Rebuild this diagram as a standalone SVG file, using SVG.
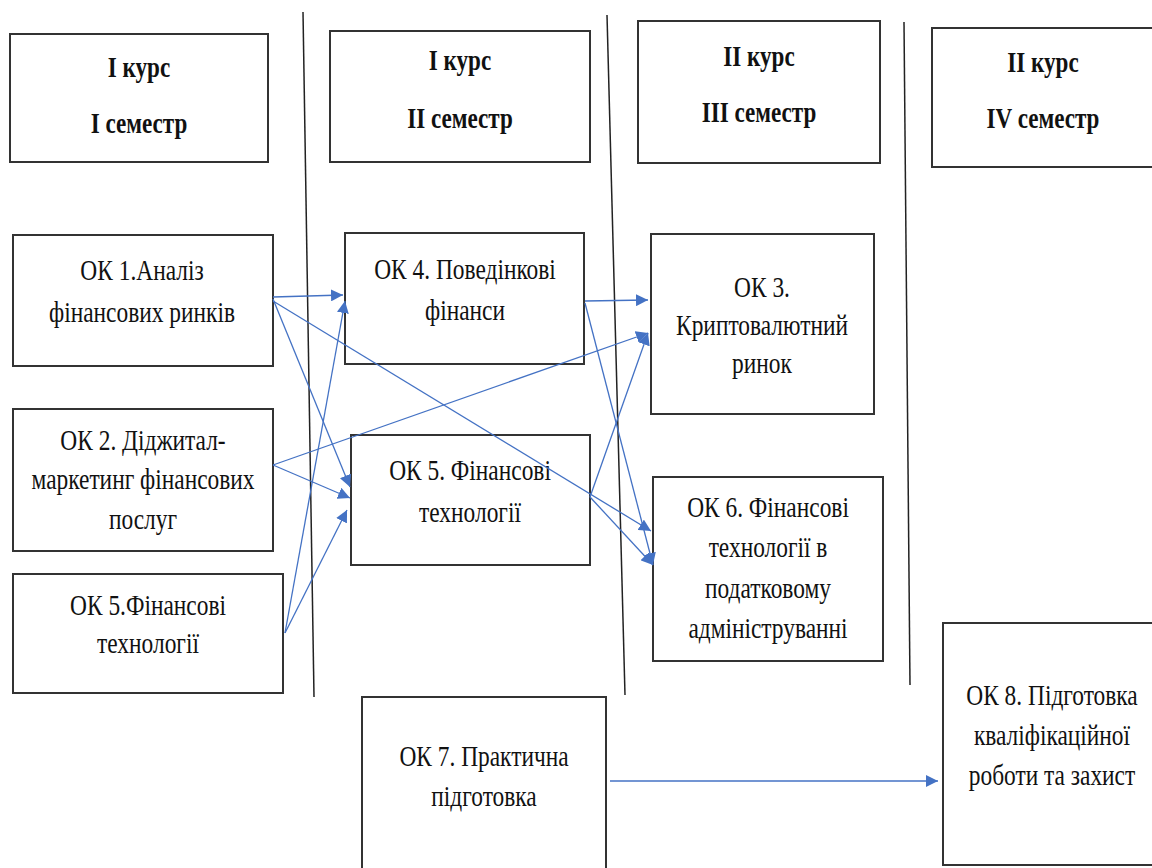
<svg xmlns="http://www.w3.org/2000/svg" width="1152" height="868" viewBox="0 0 1152 868">
<style>
.box{fill:#fff;stroke:#333;stroke-width:2}
.sep{stroke:#222;stroke-width:1.5;fill:none}
.t{font-family:"Liberation Serif","Times New Roman",serif;font-size:30px;fill:#111;text-anchor:middle}
.b{font-weight:bold}
.c{stroke:#4472C4;stroke-width:1.3;fill:none;marker-end:url(#ah)}
</style>
<defs>
<marker id="ah" markerUnits="userSpaceOnUse" markerWidth="14" markerHeight="12" refX="12" refY="6" orient="auto">
<path d="M0,0 L12,6 L0,12 z" fill="#4472C4"/>
</marker>
</defs>
<rect width="1152" height="868" fill="#fff"/>
<g id="separators">
<line class="sep" x1="303" y1="12" x2="314" y2="697"/>
<line class="sep" x1="607" y1="15" x2="625" y2="695"/>
<line class="sep" x1="904" y1="22" x2="910" y2="685"/>
</g>
<g id="h1"><rect class="box" x="10" y="34" width="258" height="128"/>
<text class="t b" transform="matrix(0.77,0,0,1,139,0)"><tspan x="0" y="77">I курс</tspan><tspan x="0" y="133">I семестр</tspan></text></g>
<g id="h2"><rect class="box" x="330" y="31" width="260" height="131"/>
<text class="t b" transform="matrix(0.77,0,0,1,460,0)"><tspan x="0" y="70">I курс</tspan><tspan x="0" y="128">II семестр</tspan></text></g>
<g id="h3"><rect class="box" x="638" y="21" width="242" height="142"/>
<text class="t b" transform="matrix(0.77,0,0,1,759,0)"><tspan x="0" y="66">II курс</tspan><tspan x="0" y="122">III семестр</tspan></text></g>
<g id="h4"><rect class="box" x="932" y="28" width="230" height="139"/>
<text class="t b" transform="matrix(0.77,0,0,1,1043,0)"><tspan x="0" y="72">II курс</tspan><tspan x="0" y="128">IV семестр</tspan></text></g>
<g id="ok1"><rect class="box" x="13" y="235" width="260" height="131"/>
<text class="t" transform="matrix(0.78,0,0,1,142,0)"><tspan x="0" y="280">ОК 1.Аналіз</tspan><tspan x="0" y="322">фінансових ринків</tspan></text></g>
<g id="ok2"><rect class="box" x="13" y="409" width="260" height="142"/>
<text class="t" transform="matrix(0.78,0,0,1,143,0)"><tspan x="0" y="450">ОК 2. Діджитал-</tspan><tspan x="0" y="489">маркетинг фінансових</tspan><tspan x="0" y="529">послуг</tspan></text></g>
<g id="ok5a"><rect class="box" x="13" y="574" width="270" height="119"/>
<text class="t" transform="matrix(0.78,0,0,1,148,0)"><tspan x="0" y="615">ОК 5.Фінансові</tspan><tspan x="0" y="653">технології</tspan></text></g>
<g id="ok4"><rect class="box" x="345" y="233" width="239" height="131"/>
<text class="t" transform="matrix(0.78,0,0,1,465,0)"><tspan x="0" y="279">ОК 4. Поведінкові</tspan><tspan x="0" y="320">фінанси</tspan></text></g>
<g id="ok5b"><rect class="box" x="351" y="435" width="239" height="130"/>
<text class="t" transform="matrix(0.78,0,0,1,470,0)"><tspan x="0" y="480">ОК 5. Фінансові</tspan><tspan x="0" y="522">технології</tspan></text></g>
<g id="ok3"><rect class="box" x="651" y="234" width="223" height="180"/>
<text class="t" transform="matrix(0.78,0,0,1,762,0)"><tspan x="0" y="297">ОК 3.</tspan><tspan x="0" y="335">Криптовалютний</tspan><tspan x="0" y="373">ринок</tspan></text></g>
<g id="ok6"><rect class="box" x="653" y="477" width="230" height="184"/>
<text class="t" transform="matrix(0.78,0,0,1,768,0)"><tspan x="0" y="517">ОК 6. Фінансові</tspan><tspan x="0" y="557">технології в</tspan><tspan x="0" y="598">податковому</tspan><tspan x="0" y="638">адмініструванні</tspan></text></g>
<g id="ok7"><rect class="box" x="362" y="697" width="244" height="180"/>
<text class="t" transform="matrix(0.78,0,0,1,484,0)"><tspan x="0" y="766">ОК 7. Практична</tspan><tspan x="0" y="806">підготовка</tspan></text></g>
<g id="ok8"><rect class="box" x="943" y="623" width="220" height="242"/>
<text class="t" transform="matrix(0.78,0,0,1,1052,0)"><tspan x="0" y="705">ОК 8. Підготовка</tspan><tspan x="0" y="745">кваліфікаційної</tspan><tspan x="0" y="785">роботи та захист</tspan></text></g>
<g id="connectors">
<line class="c" x1="273" y1="297" x2="343" y2="295"/>
<line class="c" x1="273" y1="299" x2="350" y2="487"/>
<line class="c" x1="273" y1="301" x2="651" y2="531"/>
<line class="c" x1="273" y1="465" x2="648" y2="333"/>
<line class="c" x1="273" y1="465" x2="350" y2="498"/>
<line class="c" x1="285" y1="633" x2="345" y2="301"/>
<line class="c" x1="285" y1="633" x2="347" y2="510"/>
<line class="c" x1="585" y1="301" x2="648" y2="300"/>
<line class="c" x1="585" y1="303" x2="653" y2="565"/>
<line class="c" x1="590" y1="497" x2="648" y2="333"/>
<line class="c" x1="590" y1="497" x2="653" y2="565"/>
<line class="c" x1="610" y1="781" x2="938" y2="781"/>
</g>
</svg>
